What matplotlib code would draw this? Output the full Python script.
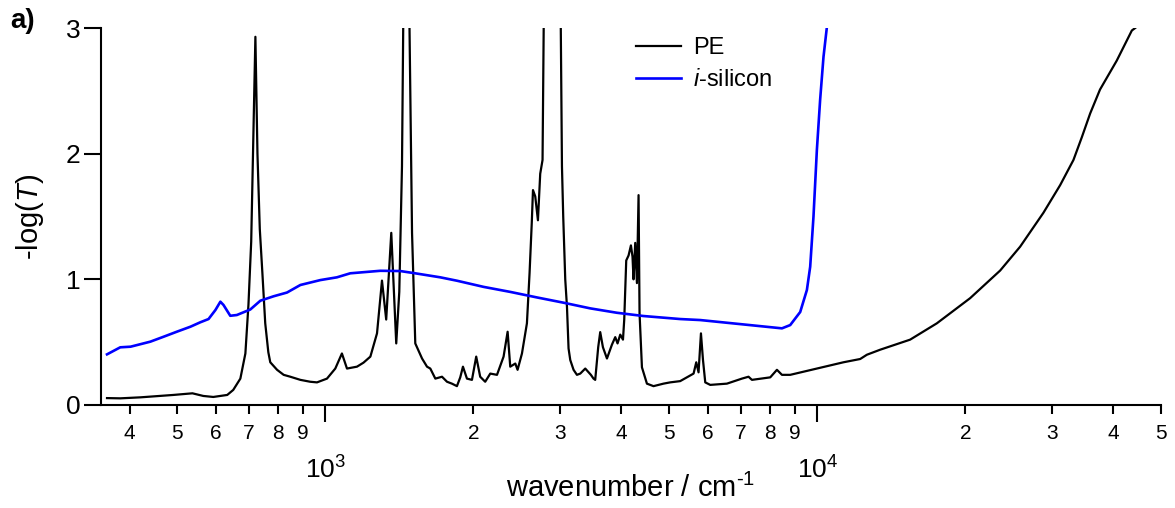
import matplotlib.pyplot as plt
from matplotlib.ticker import FixedLocator, FuncFormatter

plt.rcParams['font.family'] = ['Liberation Sans', 'DejaVu Sans']
plt.rcParams['mathtext.fontset'] = 'custom'
plt.rcParams['mathtext.rm'] = 'Liberation Sans'
plt.rcParams['mathtext.it'] = 'Liberation Sans:italic'

# PE spectrum (wavenumber in cm-1, -log T)
pe_wn = [360, 383, 421, 491, 537, 565, 592, 632, 650, 672, 688, 698, 707, 714,
         721, 728, 736, 745, 755, 766, 773, 798, 823, 849, 890, 932, 962, 1008,
         1048, 1081, 1107, 1160, 1196, 1235, 1274, 1304, 1330, 1362, 1394, 1414,
         1432, 1444, 1478, 1501, 1524, 1573, 1610, 1635, 1674, 1727, 1768, 1809,
         1852, 1881, 1905, 1941, 1987, 2027, 2065, 2114, 2165, 2234, 2304, 2348,
         2377, 2434, 2460, 2511, 2570, 2602, 2629, 2644, 2672, 2706, 2735, 2765,
         2787, 3004, 3028, 3046, 3075, 3100, 3123, 3148, 3197, 3248, 3299, 3377,
         3467, 3510, 3538, 3588, 3622, 3668, 3738, 3826, 3886, 3928, 3978, 4029,
         4053, 4091, 4136, 4182, 4213, 4233, 4267, 4301, 4334, 4354, 4403, 4507,
         4648, 4871, 5025, 5266, 5435, 5607, 5678, 5739, 5804, 5859, 5922, 6062,
         6554, 7031, 7252, 7368, 8028, 8283, 8480, 8814, 9986, 11310, 12230,
         12620, 13430, 15450, 17510, 20460, 23550, 25860, 28840, 31190, 33190,
         34510, 35890, 37580, 40640, 42610, 43620, 44310]
pe_abs = [0.055, 0.053, 0.061, 0.08, 0.093, 0.072, 0.064, 0.08, 0.12, 0.21, 0.41,
          0.8, 1.3, 2.1, 2.93, 2.0, 1.4, 1.05, 0.65, 0.42, 0.34, 0.28, 0.24,
          0.225, 0.2, 0.185, 0.18, 0.21, 0.29, 0.41, 0.29, 0.305, 0.337, 0.385,
          0.57, 0.99, 0.68, 1.37, 0.49, 0.9, 1.9, 3.5, 3.5, 1.37, 0.49, 0.37,
          0.305, 0.29, 0.21, 0.225, 0.185, 0.17, 0.15, 0.22, 0.305, 0.21, 0.2,
          0.385, 0.225, 0.185, 0.25, 0.24, 0.385, 0.583, 0.305, 0.33, 0.28, 0.41,
          0.65, 1.05, 1.45, 1.71, 1.66, 1.47, 1.84, 1.95, 3.5, 3.5, 1.9, 1.5, 1.0,
          0.78, 0.45, 0.358, 0.28, 0.24, 0.25, 0.29, 0.24, 0.21, 0.2, 0.46, 0.58,
          0.46, 0.37, 0.48, 0.54, 0.49, 0.56, 0.52, 0.68, 1.15, 1.19, 1.27, 1.18,
          1.0, 1.29, 0.97, 1.67, 0.73, 0.3, 0.17, 0.15, 0.17, 0.18, 0.19, 0.22,
          0.25, 0.34, 0.26, 0.57, 0.36, 0.18, 0.16, 0.17, 0.21, 0.225, 0.2, 0.22,
          0.28, 0.24, 0.24, 0.29, 0.34, 0.366, 0.40, 0.44, 0.52, 0.65, 0.85, 1.07,
          1.26, 1.53, 1.75, 1.95, 2.13, 2.32, 2.51, 2.74, 2.90, 2.98, 3.0]

# intrinsic silicon
si_wn = [360, 383, 402, 441, 469, 499, 532, 557, 579, 598, 612, 621, 641, 661,
         704, 738, 785, 836, 890, 977, 1056, 1124, 1294, 1420, 1512, 1713, 1852,
         2098, 2377, 2693, 3051, 3456, 3915, 4436, 5266, 5784, 8480, 8814, 9236,
         9530, 9678, 9829, 9986, 10140, 10300, 10460]
si_abs = [0.403, 0.459, 0.464, 0.504, 0.543, 0.583, 0.623, 0.658, 0.684, 0.756,
          0.822, 0.796, 0.71, 0.716, 0.76, 0.83, 0.865, 0.895, 0.955, 0.994,
          1.016, 1.048, 1.068, 1.066, 1.05, 1.016, 0.989, 0.94, 0.90, 0.856,
          0.814, 0.769, 0.734, 0.708, 0.684, 0.676, 0.61, 0.636, 0.74, 0.915,
          1.1, 1.5, 2.03, 2.43, 2.77, 3.0]

major_x = [1000, 10000]
major_labels = ['$\\mathregular{10^{3}}$', '$\\mathregular{10^{4}}$']
minor_x = [400, 500, 600, 700, 800, 900,
           2000, 3000, 4000, 5000, 6000, 7000, 8000, 9000,
           20000, 30000, 40000, 50000]
minor_labels = ['4', '5', '6', '7', '8', '9',
                '2', '3', '4', '5', '6', '7', '8', '9',
                '2', '3', '4', '5']
y_ticks = [0, 1, 2, 3]

fig = plt.figure(figsize=(11.75, 5.08), dpi=100)
ax = fig.add_axes([101 / 1175, 103 / 508, 1060 / 1175, 377 / 508])

ax.plot(pe_wn, pe_abs, color='black', lw=1.6, label='PE', solid_joinstyle='round')
ax.plot(si_wn, si_abs, color='#0000ff', lw=1.9, label='$\\mathit{i}$-silicon',
        solid_joinstyle='round')

ax.set_xscale('log')
ax.set_xlim(350, 50000)
ax.set_ylim(0, 3)

for side in ['top', 'right']:
    ax.spines[side].set_visible(False)
for side in ['left', 'bottom']:
    ax.spines[side].set_linewidth(1.5)

ax.set_yticks(y_ticks)
ax.set_yticklabels([str(v) for v in y_ticks])
ax.tick_params(axis='y', which='major', length=12, width=1.5, labelsize=19, pad=3)
ax.tick_params(axis='y', which='minor', left=False)

ax.set_xticks(major_x)
ax.set_xticklabels(major_labels)
ax.xaxis.set_minor_locator(FixedLocator(minor_x))
ax.xaxis.set_minor_formatter(FuncFormatter(lambda v, p: minor_labels[p] if p is not None and p < len(minor_labels) else ''))
ax.tick_params(axis='x', which='major', length=12, width=1.5, labelsize=19, pad=25)
ax.tick_params(axis='x', which='minor', length=6.5, width=1.5, labelsize=15, pad=7)

ax.set_xlabel('wavenumber / cm$^{\\text{-}1}$', fontsize=21, labelpad=-7)
ax.set_ylabel('-log($\\mathit{T}$)', fontsize=21, labelpad=14)

ax.legend(loc='upper left', bbox_to_anchor=(0.505, 0.975), frameon=False,
          fontsize=17, handlelength=1.9, handletextpad=0.5, labelspacing=0.4,
          borderaxespad=0, borderpad=0)

fig.text(10 / 1175, 1 - 21 / 508, 'a)', fontsize=20, fontweight='bold', va='center')

fig.savefig('out.png', dpi=100)
